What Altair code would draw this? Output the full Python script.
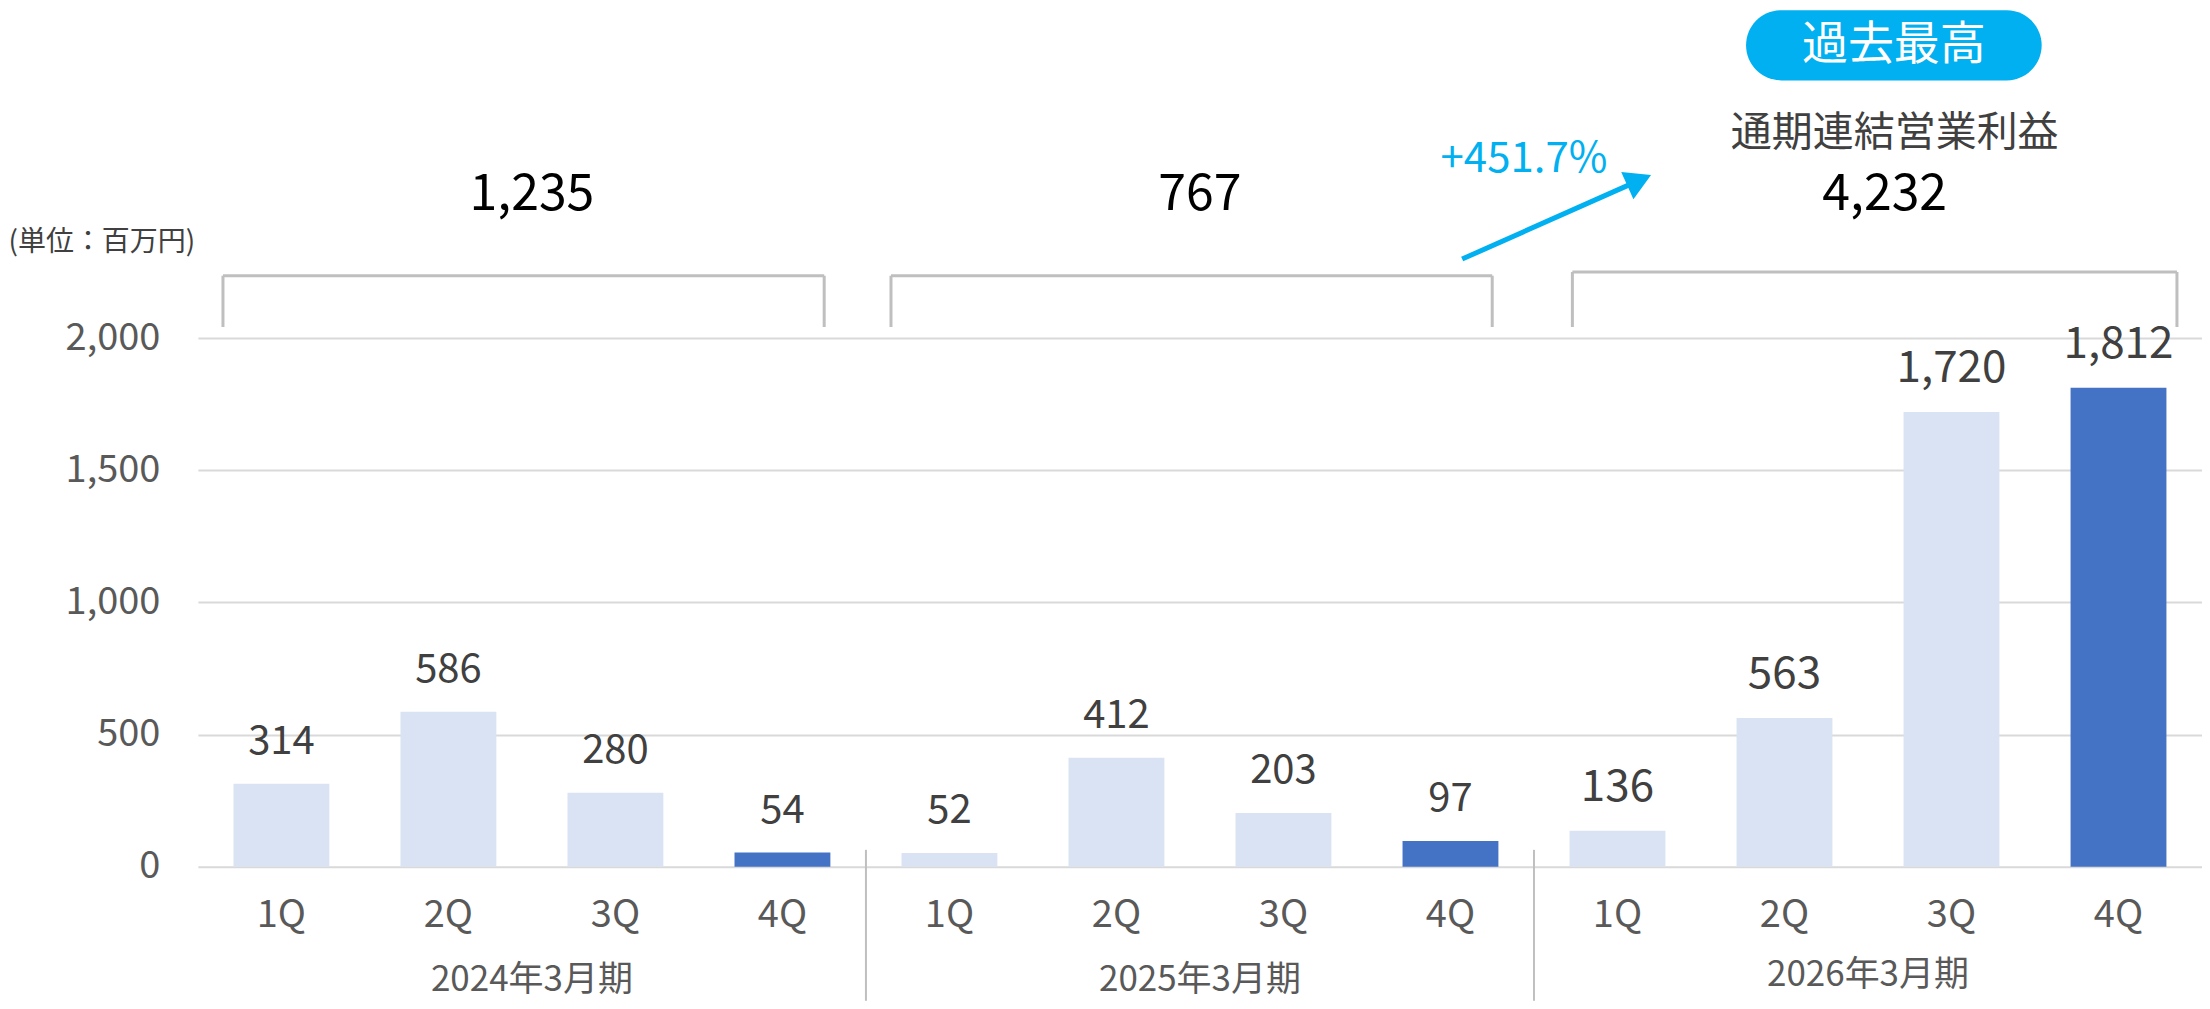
import altair as alt
import pandas as pd

# ---- data ----
periods = ["2024年3月期", "2025年3月期", "2026年3月期"]
quarters = ["1Q", "2Q", "3Q", "4Q"]
values = [314, 586, 280, 54, 52, 412, 203, 97, 136, 563, 1720, 1812]
totals = ["1,235", "767", "4,232"]
growth_label = "+451.7%"
badge_label = "過去最高"
header_label = "通期連結営業利益"
unit_label = "(単位：百万円)"
y_ticks = [0, 500, 1000, 1500, 2000]

FONT = "Noto Sans CJK JP"
LIGHT = "#DAE3F3"
DARK = "#4472C4"
CYAN = "#00B0F0"
GRAY_LINE = "#BFBFBF"

rows = []
for gi, p in enumerate(periods):
    for qi, q in enumerate(quarters):
        rows.append({"i": gi * 4 + qi, "period": p, "quarter": q,
                     "value": values[gi * 4 + qi], "g": gi})
df = pd.DataFrame(rows)

groups = pd.DataFrame({"g": [0, 1, 2], "period": periods, "total": totals})

X = alt.Scale(domain=[-0.5, 11.5], nice=False, zero=False)
Y = alt.Scale(domain=[-507, 3248], nice=False, zero=False)

base = alt.Chart(df)

bars = base.transform_calculate(
    x0="datum.i - 0.287", x1="datum.i + 0.287"
).mark_bar().encode(
    x=alt.X("x0:Q", scale=X, axis=None),
    x2="x1:Q",
    y=alt.Y("value:Q", scale=Y,
            axis=alt.Axis(values=y_ticks, format=",.0f", grid=True, gridColor="#D9D9D9",
                          gridWidth=2, domain=False, ticks=False, labelFontSize=38,
                          labelColor="#595959", labelPadding=38, labelFont=FONT,
                          title=unit_label, titleAngle=0, titleAlign="left",
                          titleBaseline="middle", titleX=-190, titleY=234,
                          titleFontSize=28, titleFontWeight="normal",
                          titleColor="#404040", titleFont=FONT)),
    y2=alt.datum(0),
    color=alt.condition("datum.quarter == '4Q'", alt.value(DARK), alt.value(LIGHT)),
)

bar_labels = base.mark_text(font=FONT, color="#404040", baseline="alphabetic", dy=-30).encode(
    x=alt.X("i:Q", scale=X),
    y=alt.Y("value:Q", scale=Y),
    text=alt.Text("value:Q", format=","),
    size=alt.condition("datum.g == 2", alt.value(44), alt.value(40)),
)

q_labels = base.transform_calculate(yy="-185").mark_text(
    font=FONT, color="#595959", fontSize=38, baseline="middle"
).encode(
    x=alt.X("i:Q", scale=X),
    y=alt.Y("yy:Q", scale=Y),
    text="quarter:N",
)

gbase = alt.Chart(groups)

p_labels = gbase.transform_calculate(
    xx="datum.g * 4 + 1.5", yy="datum.g == 2 ? -410 : -428"
).mark_text(
    font=FONT, color="#595959", fontSize=35, baseline="middle"
).encode(
    x=alt.X("xx:Q", scale=X), y=alt.Y("yy:Q", scale=Y), text="period:N"
)

dividers = gbase.transform_filter("datum.g > 0").transform_calculate(
    xx="datum.g * 4 - 0.5", y0="64", y1="-507"
).mark_rule(color=GRAY_LINE, strokeWidth=2).encode(
    x=alt.X("xx:Q", scale=X), y=alt.Y("y0:Q", scale=Y), y2="y1:Q"
)

bk = gbase.transform_calculate(
    xl="datum.g * 4 - 0.35 + (datum.g == 2 ? 0.08 : 0)",
    xr="datum.g * 4 + 3.25 + (datum.g == 2 ? 0.1 : 0)",
    yt="datum.g == 2 ? 2250 : 2236", yb="2042"
)
bracket_h = bk.mark_rule(color=GRAY_LINE, strokeWidth=3).encode(
    x=alt.X("xl:Q", scale=X), x2="xr:Q", y=alt.Y("yt:Q", scale=Y)
)
bracket_l = bk.mark_rule(color=GRAY_LINE, strokeWidth=3).encode(
    x=alt.X("xl:Q", scale=X), y=alt.Y("yt:Q", scale=Y), y2="yb:Q"
)
bracket_r = bk.mark_rule(color=GRAY_LINE, strokeWidth=3).encode(
    x=alt.X("xr:Q", scale=X), y=alt.Y("yt:Q", scale=Y), y2="yb:Q"
)

totals_text = gbase.transform_calculate(
    xx="datum.g == 2 ? 9.6 : datum.g * 4 + 1.5", yy="2540"
).mark_text(font=FONT, color="#000000", fontSize=50, baseline="middle").encode(
    x=alt.X("xx:Q", scale=X), y=alt.Y("yy:Q", scale=Y), text="total:N"
)

ann = pd.DataFrame({"x": [9.66], "y": [2771], "label": [header_label]})
header = alt.Chart(ann).mark_text(font=FONT, color="#404040", fontSize=41,
                                  baseline="middle").encode(
    x=alt.X("x:Q", scale=X), y=alt.Y("y:Q", scale=Y), text="label:N"
)

badge_df = pd.DataFrame({"x0": [8.77], "x1": [10.54], "y0": [2975], "y1": [3240],
                         "xc": [9.655], "yc": [3108], "label": [badge_label]})
badge = alt.Chart(badge_df).mark_rect(color=CYAN, cornerRadius=36).encode(
    x=alt.X("x0:Q", scale=X), x2="x1:Q", y=alt.Y("y0:Q", scale=Y), y2="y1:Q"
)
badge_text = alt.Chart(badge_df).mark_text(font=FONT, color="white", fontSize=46,
                                           baseline="middle").encode(
    x=alt.X("xc:Q", scale=X), y=alt.Y("yc:Q", scale=Y), text="label:N"
)

arrow_df = pd.DataFrame({"x0": [7.07], "y0": [2299], "x1": [8.12], "y1": [2594],
                         "tx": [8.13], "ty": [2597], "lx": [7.44], "ly": [2677],
                         "label": [growth_label]})
arrow_line = alt.Chart(arrow_df).mark_rule(color=CYAN, strokeWidth=5).encode(
    x=alt.X("x0:Q", scale=X), y=alt.Y("y0:Q", scale=Y), x2="x1:Q", y2="y1:Q"
)
arrow_head = alt.Chart(arrow_df).mark_point(
    shape="triangle-up", filled=True, size=900, angle=66, color=CYAN, opacity=1
).encode(x=alt.X("tx:Q", scale=X), y=alt.Y("ty:Q", scale=Y))
arrow_text = alt.Chart(arrow_df).mark_text(font=FONT, color=CYAN, fontSize=42,
                                           baseline="middle").encode(
    x=alt.X("lx:Q", scale=X), y=alt.Y("ly:Q", scale=Y), text="label:N"
)

chart = alt.layer(
    bars, bar_labels, q_labels, p_labels, dividers,
    bracket_h, bracket_l, bracket_r, totals_text, header,
    badge, badge_text, arrow_line, arrow_head, arrow_text,
).properties(
    width=2005, height=993, padding=0
).configure(font=FONT).configure_view(strokeWidth=0)

chart.save("out.html", embed_options={"renderer": "svg", "actions": False})
